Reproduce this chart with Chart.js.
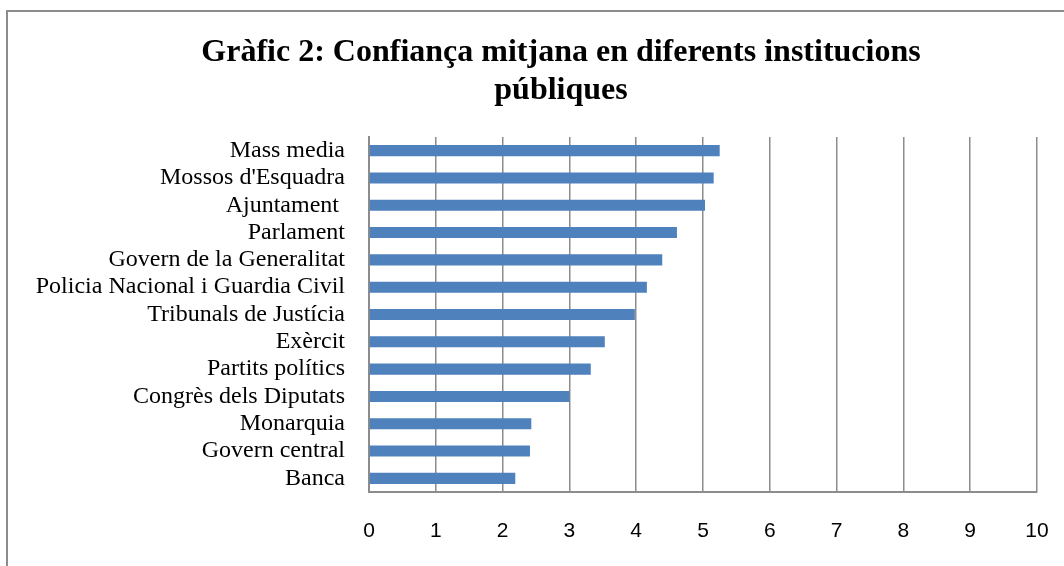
<!DOCTYPE html>
<html>
<head>
<meta charset="utf-8">
<script src="https://cdn.jsdelivr.net/npm/chart.js@4/dist/chart.umd.min.js"></script>
<style>
  html, body { margin: 0; padding: 0; background: #fff; }
  #wrap { width: 1064px; height: 566px; position: relative; }
</style>
</head>
<body>
<div id="wrap"><canvas id="chart" width="1064" height="566"></canvas></div>
<script>
const titleLines = ["Gràfic 2: Confiança mitjana en diferents institucions", "públiques"];

const institutions = [
  "Mass media",
  "Mossos d'Esquadra",
  "Ajuntament ",
  "Parlament",
  "Govern de la Generalitat",
  "Policia Nacional i Guardia Civil",
  "Tribunals de Justícia",
  "Exèrcit",
  "Partits polítics",
  "Congrès dels Diputats",
  "Monarquia",
  "Govern central",
  "Banca",
];

const confidence = [5.25, 5.16, 5.03, 4.61, 4.39, 4.16, 3.98, 3.53, 3.32, 3.0, 2.43, 2.41, 2.19];

const xTicks = [0, 1, 2, 3, 4, 5, 6, 7, 8, 9, 10];

const GRID = "#8c8c8c";

// outer frame + two-line title, drawn straight on the canvas
const frameAndTitle = {
  id: "frameAndTitle",
  beforeDraw(chart) {
    const { ctx } = chart;
    ctx.save();
    ctx.fillStyle = "#fff";
    ctx.fillRect(0, 0, chart.width, chart.height);
    ctx.strokeStyle = GRID;
    ctx.lineWidth = 2;
    ctx.beginPath();
    ctx.moveTo(7, chart.height + 5);
    ctx.lineTo(7, 11);
    ctx.lineTo(chart.width + 5, 11);
    ctx.stroke();

    ctx.fillStyle = "#000";
    ctx.font = "bold 32px 'Liberation Serif', 'Times New Roman', serif";
    ctx.textAlign = "center";
    ctx.textBaseline = "middle";
    titleLines.forEach((line, i) => ctx.fillText(line, 561, 53 + i * 38));
    ctx.restore();
  },
};

new Chart(document.getElementById("chart"), {
  type: "bar",
  data: {
    labels: institutions,
    datasets: [
      {
        label: "Confiança mitjana",
        data: confidence,
        backgroundColor: "#4f81bd",
        borderWidth: 0,
        barPercentage: 0.9,
        categoryPercentage: 0.45,
      },
    ],
  },
  options: {
    indexAxis: "y",
    responsive: false,
    animation: false,
    layout: { padding: { top: 137, right: 27, left: 0, bottom: 0 } },
    plugins: {
      legend: { display: false },
      title: { display: false },
      tooltip: { enabled: false },
    },
    scales: {
      x: {
        min: 0,
        max: 10,
        afterBuildTicks: (scale) => {
          scale.ticks = xTicks.map((v) => ({ value: v }));
        },
        afterFit: (scale) => {
          scale.height = 74;
        },
        // invisible tick marks push the labels down without widening the right padding
        grid: { color: GRID, lineWidth: 1.5, drawTicks: true, tickLength: 26, tickColor: "rgba(0,0,0,0)" },
        border: { display: true, color: GRID, width: 2 },
        ticks: {
          padding: 1,
          color: "#000",
          font: { family: "'Liberation Sans', Arial, sans-serif", size: 21 },
        },
      },
      y: {
        afterFit: (scale) => {
          scale.width = 369;
        },
        grid: { display: false, drawTicks: false },
        border: { display: true, color: GRID, width: 2 },
        ticks: {
          autoSkip: false,
          padding: 24,
          color: "#000",
          font: { family: "'Liberation Serif', 'Times New Roman', serif", size: 24 },
        },
      },
    },
  },
  plugins: [frameAndTitle],
});
</script>
</body>
</html>
